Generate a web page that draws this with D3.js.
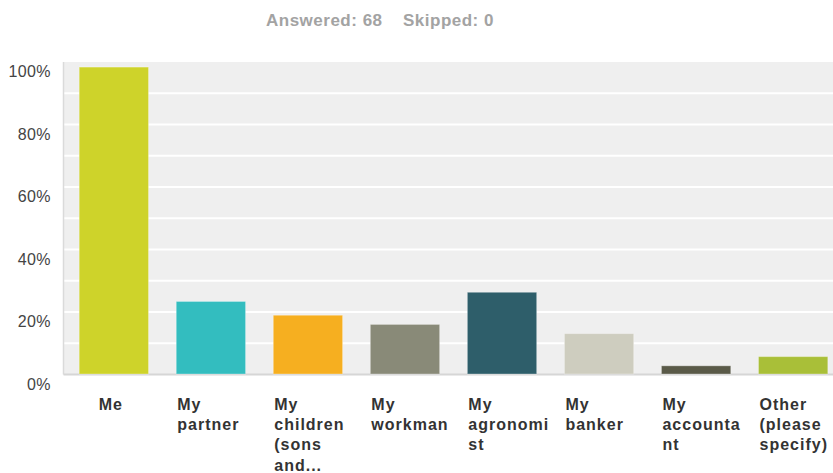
<!DOCTYPE html>
<html>
<head>
<meta charset="utf-8">
<script src="https://cdn.jsdelivr.net/npm/d3@7"></script>
<style>
  body { margin: 0; background: #fff; }
  svg { display: block; }
</style>
</head>
<body>
<svg id="chart" width="833" height="473"></svg>
<script>
// answer choices, split into the lines they wrap to
const categories = ["Me", "My partner", "My children (sons and...", "My workman",
  "My agronomist", "My banker", "My accountant", "Other (please specify)"];
const labelLines = [["Me"], ["My", "partner"], ["My", "children", "(sons", "and..."],
  ["My", "workman"], ["My", "agronomi", "st"], ["My", "banker"],
  ["My", "accounta", "nt"], ["Other", "(please", "specify)"]];
// percent of 68 respondents
const values = [98.53, 23.53, 19.12, 16.18, 26.47, 13.24, 2.94, 5.88];
const colors = ["#ced32a", "#33bdbf", "#f6af20", "#898a78", "#2e5e6a", "#cecdbf", "#5a5a48", "#a9bf38"];
const yTicks = [0, 20, 40, 60, 80, 100];
const gridTicks = [10, 20, 30, 40, 50, 60, 70, 80, 90];
const summary = ["Answered: 68", "Skipped: 0"];

const svg = d3.select("#chart");
const plotLeft = 63.5, plotRight = 833, plotTop = 62, plotBottom = 374.5;

const x = d3.scaleBand().domain(categories).range([69, 838]).paddingInner(0.2755).paddingOuter(0.1);
const y = d3.scaleLinear().domain([0, 100]).range([plotBottom, plotTop]);

// header
svg.selectAll("text.summary")
  .data(summary)
  .enter().append("text")
  .attr("class", "summary")
  .attr("x", (d, i) => i === 0 ? 266 : 403)
  .attr("y", 26)
  .attr("fill", "#a3a3a3")
  .style("font-family", "'Liberation Sans', Arial, sans-serif")
  .style("font-weight", "bold")
  .style("font-size", "17px")
  .style("letter-spacing", "0.5px")
  .text(d => d);

// plot background
svg.append("rect")
  .attr("x", plotLeft).attr("y", plotTop)
  .attr("width", plotRight - plotLeft).attr("height", plotBottom - plotTop)
  .attr("fill", "#efefef");

svg.append("g").selectAll("line")
  .data(gridTicks)
  .enter().append("line")
  .attr("x1", plotLeft).attr("x2", plotRight)
  .attr("y1", d => y(d)).attr("y2", d => y(d))
  .attr("stroke", "#fff")
  .attr("stroke-width", 2);

// axis lines
svg.append("line")
  .attr("x1", plotLeft).attr("x2", plotLeft)
  .attr("y1", plotTop).attr("y2", plotBottom)
  .attr("stroke", "#dadada").attr("stroke-width", 1.5);
svg.append("line")
  .attr("x1", plotLeft).attr("x2", plotRight)
  .attr("y1", plotBottom).attr("y2", plotBottom)
  .attr("stroke", "#d6d6d6").attr("stroke-width", 2);

// bars
svg.append("g").selectAll("rect")
  .data(values)
  .enter().append("rect")
  .attr("x", (d, i) => x(categories[i]) + 0.5)
  .attr("y", d => y(d) + 0.5)
  .attr("width", x.bandwidth() - 1)
  .attr("height", d => plotBottom - 1 - y(d))
  .attr("fill", (d, i) => colors[i])
  .attr("stroke", "rgba(255,255,255,0.3)")
  .attr("stroke-width", 1);

// y tick labels
svg.append("g").selectAll("text")
  .data(yTicks)
  .enter().append("text")
  .attr("x", 51)
  .attr("y", d => y(d) + 15)
  .attr("text-anchor", "end")
  .attr("fill", "#444")
  .style("font-family", "'Liberation Sans', Arial, sans-serif")
  .style("font-size", "16px")
  .style("letter-spacing", "0.4px")
  .text(d => d + "%");

// x labels
const xl = svg.append("g").selectAll("text")
  .data(categories)
  .enter().append("text")
  .attr("x", (d, i) => labelLines[i].length === 1 ? x(d) + x.bandwidth() / 2 - 3 : x(d) + 1.5)
  .attr("y", 410)
  .attr("text-anchor", (d, i) => labelLines[i].length === 1 ? "middle" : "start")
  .attr("fill", "#333")
  .style("font-family", "'Liberation Sans', Arial, sans-serif")
  .style("font-weight", "bold")
  .style("font-size", "16px")
  .style("letter-spacing", "1px");

xl.each(function(d, i) {
  const t = d3.select(this);
  const x0 = t.attr("x");
  labelLines[i].forEach((line, k) => {
    t.append("tspan").attr("x", x0).attr("dy", k === 0 ? 0 : 20.2).text(line);
  });
});
</script>
</body>
</html>
